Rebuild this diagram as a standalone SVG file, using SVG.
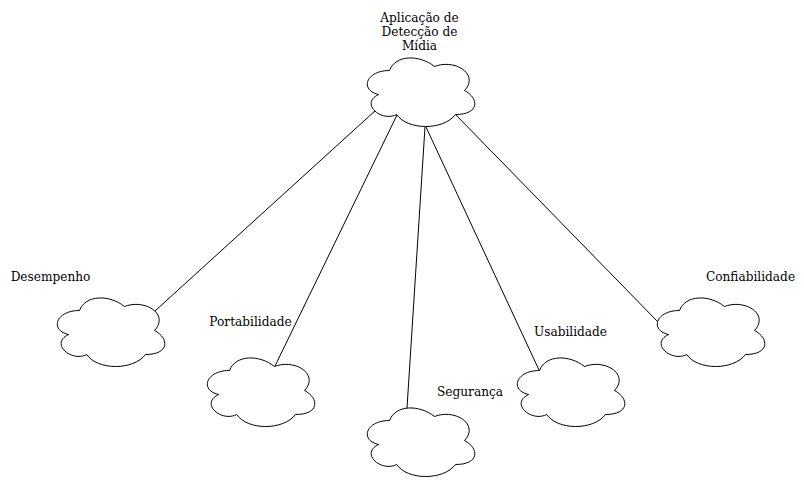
<svg xmlns="http://www.w3.org/2000/svg" width="804" height="491" viewBox="0 0 804 491">
<style>
text{font-family:"DejaVu Serif",serif;font-size:12.15px;text-anchor:middle;fill:#000}
.c{fill:#fff;stroke:#000;stroke-width:1}
#connectors line{stroke:#000;stroke-width:1;fill:none}
</style>
<defs>
<path id="cloud" class="c" d="M30 20C6 20 0 40 19.200 44C0 52.800 21.600 72 37.200 64C48 80 84 80 96 64C120 64 120 48 105 40C120 24 96 8 75 16C60 4 36 4 30 20Z"/>
</defs>
<rect width="804" height="491" fill="#fff"/>
<g id="connectors">
<line x1="376" y1="110" x2="155" y2="311"/>
<line x1="397" y1="115" x2="275" y2="366"/>
<line x1="425" y1="127" x2="407" y2="408"/>
<line x1="426" y1="127" x2="539" y2="370"/>
<line x1="455" y1="114" x2="658" y2="322"/>
</g>
<g id="node-app"><use href="#cloud" x="359.5" y="50.5"/><text x="419.500" y="22">Aplicação de</text><text x="419.500" y="36">Detecção de</text><text x="419.500" y="50">Mídia</text></g>
<g id="node-desempenho"><use href="#cloud" x="49.500" y="290.500"/><text x="50.500" y="281">Desempenho</text></g>
<g id="node-portabilidade"><use href="#cloud" x="199.500" y="350.500"/><text x="250.500" y="326">Portabilidade</text></g>
<g id="node-seguranca"><use href="#cloud" x="359.500" y="400.500"/><text x="470" y="396">Segurança</text></g>
<g id="node-usabilidade"><use href="#cloud" x="509.500" y="350.500"/><text x="570.500" y="336">Usabilidade</text></g>
<g id="node-confiabilidade"><use href="#cloud" x="649.500" y="290.500"/><text x="750.500" y="281">Confiabilidade</text></g>
</svg>
